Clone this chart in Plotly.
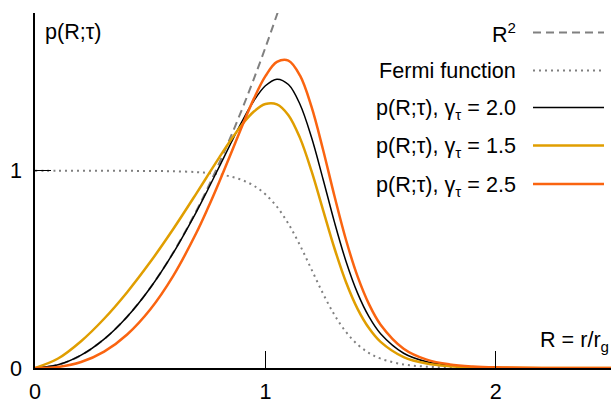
import plotly.graph_objects as go

# Sample positions R = r/r_g
R = [0, 0.1, 0.2, 0.3, 0.4, 0.5, 0.6, 0.7, 0.75, 0.8, 0.85, 0.9, 0.95, 1.0,
     1.05, 1.1, 1.15, 1.2, 1.25, 1.3, 1.35, 1.4, 1.45, 1.5, 1.6, 1.7, 1.8,
     1.9, 2.0, 2.2, 2.5]

# Scaled R^2 curve (dashed), read up to where it leaves the top of the plot
R_sq = [0, 0.1, 0.2, 0.3, 0.4, 0.5, 0.6, 0.7, 0.75, 0.8, 0.85, 0.9, 0.95, 1.0, 1.05, 1.1]
sq_vals = [0, 0.0162, 0.0650, 0.1462, 0.2600, 0.4062, 0.5849, 0.7962, 0.9140,
           1.0399, 1.1739, 1.3161, 1.4664, 1.6248, 1.7913, 1.9660]

fermi = [1.0, 1.0, 1.0, 0.9999, 0.9997, 0.9991, 0.9975, 0.9933, 0.9890, 0.9820,
         0.9707, 0.9526, 0.9241, 0.8808, 0.8176, 0.7311, 0.6225, 0.5, 0.3775,
         0.2689, 0.1824, 0.1192, 0.0759, 0.0474, 0.0180, 0.0067, 0.0025,
         0.0009, 0.0003, 0.00005, 0.0]

p_20 = [0, 0.0162, 0.0650, 0.1462, 0.2599, 0.4058, 0.5835, 0.7908, 0.9039,
        1.0212, 1.1395, 1.2537, 1.3551, 1.4311, 1.4646, 1.4373, 1.3375, 1.1699,
        0.9585, 0.7385, 0.5402, 0.3796, 0.2591, 0.1734, 0.0748, 0.0314, 0.0130,
        0.0053, 0.0022, 0.0004, 0.0]

p_15 = [0, 0.0481, 0.1359, 0.2497, 0.3844, 0.5369, 0.7046, 0.8842, 0.9764,
        1.0680, 1.1562, 1.2362, 1.3006, 1.3387, 1.3370, 1.2819, 1.1668, 0.9990,
        0.8019, 0.6059, 0.4349, 0.3001, 0.2013, 0.1324, 0.0553, 0.0225, 0.0091,
        0.0036, 0.0014, 0.0002, 0.0]

p_25 = [0, 0.0053, 0.0301, 0.0828, 0.1700, 0.2967, 0.4673, 0.6842, 0.8095,
        0.9444, 1.0863, 1.2298, 1.3658, 1.4798, 1.5518, 1.5587, 1.4832, 1.3251,
        1.1081, 0.8707, 0.6490, 0.4645, 0.3227, 0.2196, 0.0979, 0.0424, 0.0181,
        0.0076, 0.0032, 0.0005, 0.0]

legend_labels = ["R<sup>2</sup>", "Fermi function",
                 "p(R;τ), γ<sub>τ</sub> = 2.0",
                 "p(R;τ), γ<sub>τ</sub> = 1.5",
                 "p(R;τ), γ<sub>τ</sub> = 2.5"]

x_ticks = [0, 1, 2]
y_ticks = [0, 1]

GREY = "#808080"
BLACK = "#000000"
GOLD = "#e09e00"
ORANGE = "#fa6410"
FONT = "Liberation Sans, Arial, sans-serif"
FS = 21.6

styles = [
    dict(color=GREY, width=2, dash="8px,5px"),
    dict(color=GREY, width=2, dash="2px,4px"),
    dict(color=BLACK, width=1.5, dash="solid"),
    dict(color=GOLD, width=2.5, dash="solid"),
    dict(color=ORANGE, width=2.5, dash="solid"),
]

fig = go.Figure()
series = [(R_sq, sq_vals), (R, fermi), (R, p_20), (R, p_15), (R, p_25)]
for (xs, ys), st in zip(series, styles):
    fig.add_trace(go.Scatter(x=xs, y=ys, mode="lines",
                             line=dict(shape="spline", smoothing=1.0, **st),
                             showlegend=False, hoverinfo="skip"))

W, H = 611, 401
ML, MR, MT, MB = 35, 0, 13, 33
PW, PH = W - ML - MR, H - MT - MB

def px_x(px):
    return (px - ML) / PW

def px_y(py):
    return (H - MB - py) / PH

# manual legend (text right-aligned, sample on the right)
rows_y = [32.5, 70.5, 107.5, 145.5, 184]
text_dy = [0, 0, 1.5, 1.5, 1.5]
for lab, yy, dy, st in zip(legend_labels, rows_y, text_dy, styles):
    fig.add_annotation(x=px_x(518), y=px_y(yy + dy), xref="paper", yref="paper",
                       text=lab, showarrow=False, xanchor="right", yanchor="middle",
                       font=dict(family=FONT, size=FS, color="black"))
    fig.add_shape(type="line", xref="paper", yref="paper",
                  x0=px_x(533), x1=px_x(604), y0=px_y(yy), y1=px_y(yy),
                  line=st)

fig.add_annotation(x=px_x(43), y=px_y(31.5), xref="paper", yref="paper",
                   text="p(R;τ)", showarrow=False, xanchor="left", yanchor="middle",
                   font=dict(family=FONT, size=FS, color="black"))
fig.add_annotation(x=px_x(611), y=px_y(341), xref="paper", yref="paper",
                   text="R = r/r<sub>g</sub>", showarrow=False, xanchor="right",
                   yanchor="middle", font=dict(family=FONT, size=FS, color="black"))

fig.update_xaxes(range=[0, 2.5], tickvals=x_ticks, ticktext=[str(v) for v in x_ticks],
                 ticks="inside", ticklen=17, tickwidth=1.2, tickcolor="black",
                 showline=True, linecolor="black", linewidth=1.5, mirror=False,
                 showgrid=False, zeroline=False, ticklabelstandoff=3, automargin=False,
                 tickfont=dict(family=FONT, size=FS, color="black"))
fig.update_yaxes(range=[0, 1.8], tickvals=y_ticks, ticktext=[str(v) for v in y_ticks],
                 ticks="inside", ticklen=16, tickwidth=1.2, tickcolor="black",
                 showline=True, linecolor="black", linewidth=1.5, mirror=False,
                 showgrid=False, zeroline=False, ticklabelstandoff=7, automargin=False,
                 tickfont=dict(family=FONT, size=FS, color="black"))

fig.update_layout(width=W, height=H, margin=dict(l=ML, r=MR, t=MT, b=MB, autoexpand=False),
                  paper_bgcolor="white", plot_bgcolor="white", showlegend=False)

fig.write_html("out.html", config={"displayModeBar": False},
               post_script="document.body.style.margin='0';document.body.style.overflow='hidden';")
